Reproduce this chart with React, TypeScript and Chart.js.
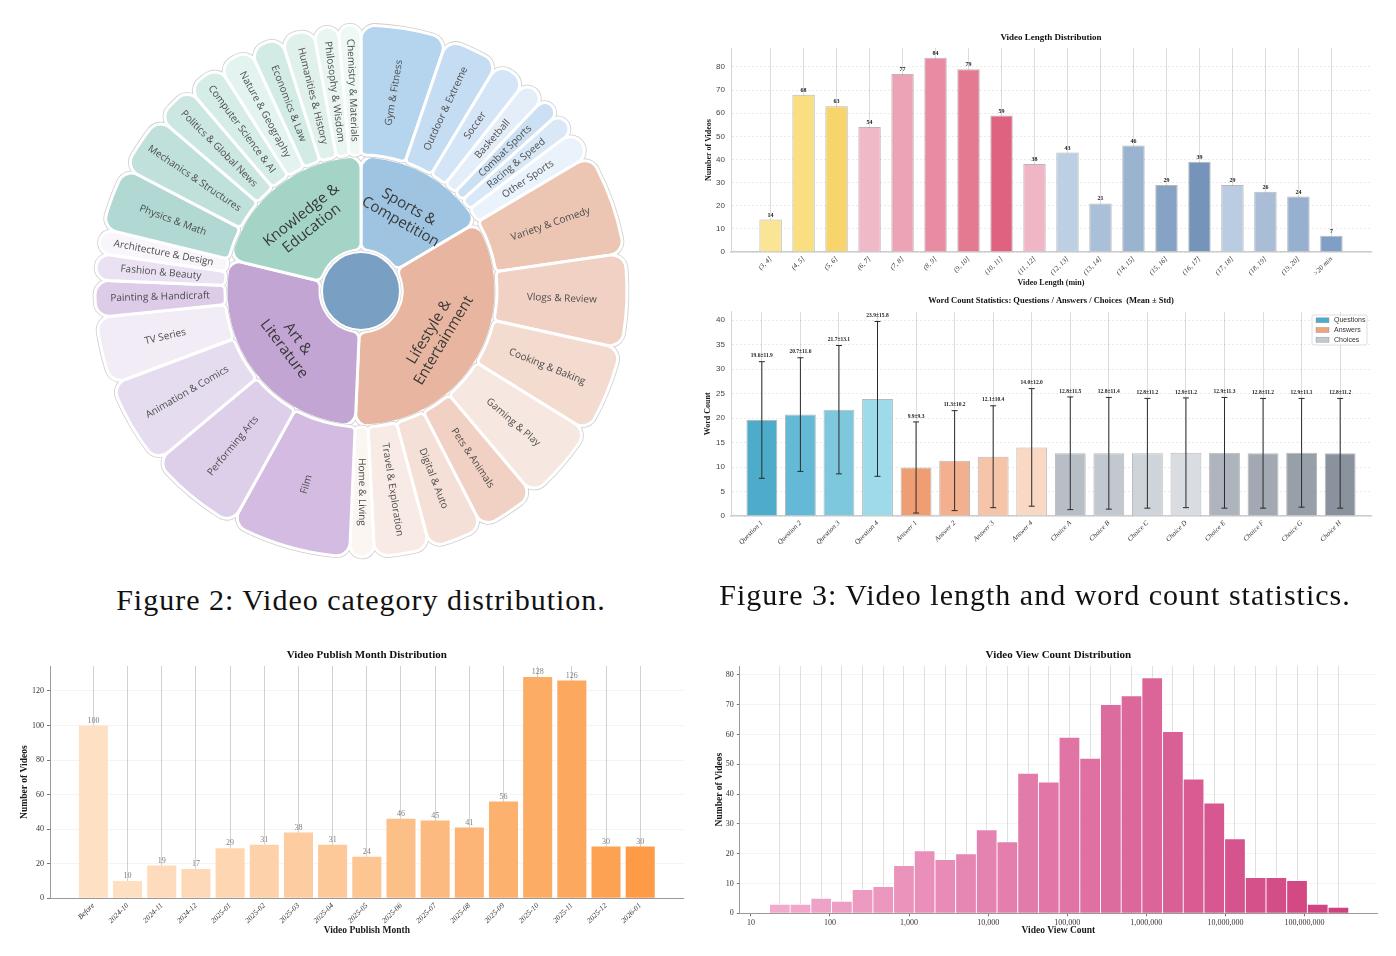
import React, { useEffect, useRef } from "react";
import { Chart, registerables } from "chart.js";

Chart.register(...registerables);

// ---------------- category distribution (sunburst) ----------------
const categoryLines = [
  ["Sports &", "Competition"],
  ["Lifestyle &", "Entertainment"],
  ["Art &", "Literature"],
  ["Knowledge &", "Education"],
];

const sportsLeaves = ["Gym & Fitness", "Outdoor & Extreme", "Soccer", "Basketball", "Combat Sports", "Racing & Speed", "Other Sports"];
const sportsCounts = [42, 27, 16, 12, 10, 11, 14];

const lifestyleLeaves = ["Variety & Comedy", "Vlogs & Review", "Cooking & Baking", "Gaming & Play", "Pets & Animals", "Digital & Auto", "Travel & Exploration", "Home & Living"];
const lifestyleCounts = [50, 46, 43, 40, 29, 27, 27, 12];

const artLeaves = ["Film", "Performing Arts", "Animation & Comics", "TV Series", "Painting & Handicraft", "Fashion & Beauty", "Architecture & Design"];
const artCounts = [59, 47, 43, 33, 18, 13, 12];

const knowledgeLeaves = ["Physics & Math", "Mechanics & Structures", "Politics & Global News", "Computer Science & AI", "Nature & Geography", "Economics & Law", "Humanities & History", "Philosophy & Wisdom", "Chemistry & Materials"];
const knowledgeCounts = [31, 29, 20, 18, 17, 16, 16, 12, 11];

// ---------------- video length ----------------
const lengthLabels = ["(3, 4]", "(4, 5]", "(5, 6]", "(6, 7]", "(7, 8]", "(8, 9]", "(9, 10]", "(10, 11]", "(11, 12]", "(12, 13]", "(13, 14]", "(14, 15]", "(15, 16]", "(16, 17]", "(17, 18]", "(18, 19]", "(19, 20]", ">20 min"];
const lengthCounts = [14, 68, 63, 54, 77, 84, 79, 59, 38, 43, 21, 46, 29, 39, 29, 26, 24, 7];

// ---------------- word counts ----------------
const wordLabels = ["Question 1", "Question 2", "Question 3", "Question 4", "Answer 1", "Answer 2", "Answer 3", "Answer 4", "Choice A", "Choice B", "Choice C", "Choice D", "Choice E", "Choice F", "Choice G", "Choice H"];
const wordMeans = [19.6, 20.7, 21.7, 23.9, 9.9, 11.3, 12.1, 14.0, 12.8, 12.8, 12.8, 12.9, 12.9, 12.8, 12.9, 12.8];
const wordStds = [11.9, 11.6, 13.1, 15.8, 9.3, 10.2, 10.4, 12.0, 11.5, 11.4, 11.2, 11.2, 11.3, 11.2, 11.1, 11.2];
const wordGroups = ["Questions", "Answers", "Choices"];

// ---------------- publish month ----------------
const monthLabels = ["Before", "2024-10", "2024-11", "2024-12", "2025-01", "2025-02", "2025-03", "2025-04", "2025-05", "2025-06", "2025-07", "2025-08", "2025-09", "2025-10", "2025-11", "2025-12", "2026-01"];
const monthCounts = [100, 10, 19, 17, 29, 31, 38, 31, 24, 46, 45, 41, 56, 128, 126, 30, 30];

// ---------------- view count histogram ----------------
const viewBinEdges = [17.2, 31.4, 57.3, 104.7, 191.2, 349.1, 637.7, 1165, 2127, 3885, 7096, 12960, 23670, 43230, 78970, 144200, 263400, 481100, 878700, 1605000, 2931000, 5354000, 9777000, 17860000, 32620000, 59570000, 108800000, 198700000, 362900000];
const viewCounts = [3, 3, 5, 4, 8, 9, 16, 21, 18, 20, 28, 24, 47, 44, 59, 52, 70, 73, 79, 61, 45, 37, 25, 12, 12, 11, 3, 2];
const viewTickValues = [10, 100, 1000, 10000, 100000, 1000000, 10000000, 100000000];

// ---------------- styling ----------------
const SERIF = "'Liberation Serif', 'Times New Roman', serif";
const SANS = "'Liberation Sans', Arial, sans-serif";
const UI = "'Open Sans', 'Noto Sans', sans-serif";

const categoryColors = ["#9ec4e1", "#e8b6a0", "#c3a5d3", "#a4d4c5"];
const hubColor = "#79a0c3";
const OUTLINE = "#cfcfcf";
const sportsColors = ["#b5d5ee", "#c5ddf2", "#d3e5f6", "#e4eef9", "#cce0f3", "#d9e8f7", "#eaf2fb"];
const lifestyleColors = ["#edc5b3", "#f0d1c3", "#f3dbcf", "#f6e7e1", "#f1d1c3", "#f5e0d7", "#f8ebe5", "#fcf6f3"];
const artColors = ["#d4bbe1", "#ddcfe9", "#e6dcf0", "#f1ecf6", "#dccce7", "#eae2f2", "#f8f5fb"];
const knowledgeColors = ["#b2d8d4", "#c0e0db", "#cce7e1", "#d5ece7", "#e3f3ef", "#d3ebe5", "#e0f1ec", "#e8f5f1", "#eef8f5"];

const lengthColors = ["#fae596", "#f9de82", "#f7d46c", "#efb9c7", "#eda3b6", "#e98ca3", "#e47a92", "#df6381", "#f0b6c5", "#bccfe3", "#aabfd8", "#9ab3cf", "#86a3c5", "#7693b9", "#b9cce2", "#a9bdd7", "#97b0d0", "#7f9fc6"];
const wordColors = ["#4eaccb", "#63b9d6", "#7ec8de", "#9ddbea", "#ef9e73", "#f3b08e", "#f6c4a8", "#fad9c4", "#b7bec6", "#c2c8cf", "#cfd4da", "#d9dde2", "#adb4bd", "#a2a9b2", "#979fa8", "#8a939d"];
const wordGroupColors = ["#4eaccb", "#f0a37c", "#c3c8ce"];
const monthColors = ["#fee0c5", "#fedfc2", "#fedbbc", "#fed9b7", "#fed6b1", "#fdd1a9", "#fdcca0", "#fdc999", "#fdc592", "#fdbf88", "#fdba80", "#fdb577", "#fdb16f", "#fdac66", "#fda85f", "#fda253", "#fd9b47"];

function mixHex(a: string, b: string, t: number) {
  const pa = [1, 3, 5].map((k) => parseInt(a.slice(k, k + 2), 16));
  const pb = [1, 3, 5].map((k) => parseInt(b.slice(k, k + 2), 16));
  return "rgb(" + pa.map((v, i) => Math.round(v + (pb[i] - v) * t)).join(",") + ")";
}

// ---------------- shared helpers ----------------
function axisTitle(text: string, size: number, padding: any) {
  return {
    display: true,
    text,
    color: "#1a1a1a",
    font: { family: SERIF, size, weight: "bold", lineHeight: 1.2 },
    padding,
  };
}

function plotTitle(text: string, size: number, y: number) {
  return {
    id: "plotTitle",
    afterDraw(chart: any) {
      const { ctx, chartArea } = chart;
      ctx.save();
      ctx.font = `bold ${size}px ${SERIF}`;
      ctx.fillStyle = "#111";
      ctx.textAlign = "center";
      ctx.textBaseline = "middle";
      ctx.fillText(text, (chartArea.left + chartArea.right) / 2, y);
      ctx.restore();
    },
  };
}

function barValueLabels(font: string, color: string, gap: number) {
  return {
    id: "barValueLabels",
    afterDatasetsDraw(chart: any) {
      const { ctx } = chart;
      const meta = chart.getDatasetMeta(0);
      const values = chart.data.datasets[0].data;
      ctx.save();
      ctx.font = font;
      ctx.fillStyle = color;
      ctx.textAlign = "center";
      ctx.textBaseline = "bottom";
      meta.data.forEach((bar: any, i: number) => ctx.fillText(String(values[i].y), bar.x, bar.y - gap));
      ctx.restore();
    },
  };
}

function frameLayout(W: number, box: any) {
  return { autoPadding: false, padding: { left: 0, right: W - box.r, top: box.t, bottom: 0 } };
}

// ---------------- sunburst ----------------
const leafNames = [sportsLeaves, lifestyleLeaves, artLeaves, knowledgeLeaves].flat();
const leafCountGroups = [sportsCounts, lifestyleCounts, artCounts, knowledgeCounts];
const leafCounts = leafCountGroups.flat();
const categoryTotals = leafCountGroups.map((g) => g.reduce((a, b) => a + b, 0));
const leafColors = [sportsColors, lifestyleColors, artColors, knowledgeColors].flat();

const sunburstPlugin = {
  id: "sunburstDecor",
  beforeDatasetDraw(chart: any, args: any) {
    if (args.index === 1) return;
    const ctx = chart.ctx;
    chart.getDatasetMeta(args.index).data.forEach((arc: any) => {
      const saved = arc.options;
      arc.options = { ...saved, backgroundColor: OUTLINE, borderColor: OUTLINE, borderWidth: saved.borderWidth + 1.6 };
      arc.draw(ctx);
      arc.options = saved;
    });
  },
  afterDatasetsDraw(chart: any) {
    const ctx = chart.ctx;
    const inner = chart.getDatasetMeta(2).data;
    const cx = inner[0].x;
    const cy = inner[0].y;
    ctx.save();
    ctx.beginPath();
    ctx.arc(cx, cy, 40.6, 0, Math.PI * 2);
    ctx.fillStyle = OUTLINE;
    ctx.fill();
    ctx.beginPath();
    ctx.arc(cx, cy, 39, 0, Math.PI * 2);
    ctx.fillStyle = hubColor;
    ctx.fill();
    ctx.lineWidth = 2;
    ctx.strokeStyle = "#ffffff";
    ctx.stroke();

    ctx.textAlign = "center";
    ctx.textBaseline = "middle";

    // leaf labels, running along the radius
    ctx.font = `10px ${UI}`;
    ctx.fillStyle = "#4d4d4d";
    chart.getDatasetMeta(0).data.forEach((arc: any, i: number) => {
      const mid = (arc.startAngle + arc.endAngle) / 2;
      const r = (arc.innerRadius + arc.outerRadius) / 2;
      const deg = (mid * 180) / Math.PI + 90;
      const rot = ((deg < 180.5 ? deg - 90 : deg - 270) * Math.PI) / 180;
      ctx.save();
      ctx.translate(cx + r * Math.cos(mid), cy + r * Math.sin(mid));
      ctx.rotate(rot);
      ctx.fillText(leafNames[i], 0, 0);
      ctx.restore();
    });

    // category labels, across the radius
    ctx.font = `15px ${UI}`;
    ctx.fillStyle = "#383838";
    inner.forEach((arc: any, i: number) => {
      const mid = (arc.startAngle + arc.endAngle) / 2;
      const r = (arc.innerRadius + arc.outerRadius) / 2;
      const deg = (mid * 180) / Math.PI + 90;
      const rot = ((deg < 90 || deg > 270 ? deg : deg - 180) * Math.PI) / 180;
      const lines = categoryLines[i];
      ctx.save();
      ctx.translate(cx + r * Math.cos(mid), cy + r * Math.sin(mid));
      ctx.rotate(rot);
      lines.forEach((t, k) => ctx.fillText(t, 0, (k - (lines.length - 1) / 2) * 17));
      ctx.restore();
    });
    ctx.restore();
  },
};

function makeSunburst() {
  return {
    type: "doughnut",
    data: {
      labels: leafNames,
      datasets: [
        {
          data: leafCounts,
          backgroundColor: leafColors,
          borderColor: "#ffffff",
          borderWidth: 3,
          weight: 130,
          borderRadius: { outerStart: 14, outerEnd: 14, innerStart: 5, innerEnd: 5 },
        },
        { data: [1], backgroundColor: "rgba(0,0,0,0)", borderWidth: 0, weight: 1 },
        {
          data: categoryTotals,
          backgroundColor: categoryColors,
          borderColor: "#ffffff",
          borderWidth: 3,
          weight: 94,
          borderRadius: { outerStart: 12, outerEnd: 12, innerStart: 8, innerEnd: 8 },
        },
      ],
    },
    options: {
      responsive: false,
      animation: false,
      radius: 266,
      cutout: `${(41 / 266) * 100}%`,
      layout: { padding: 0 },
      plugins: { legend: { display: false }, tooltip: { enabled: false } },
    },
    plugins: [sunburstPlugin],
  };
}

// ---------------- video length bars ----------------
function makeLengthChart() {
  const W = 690, H = 270;
  const box = { l: 31, r: 671, t: 23, b: 227 };
  return {
    type: "bar",
    data: {
      datasets: [
        {
          data: lengthCounts.map((y, x) => ({ x, y })),
          backgroundColor: lengthColors,
          borderColor: "rgba(125,125,125,0.55)",
          borderWidth: 1,
          categoryPercentage: 0.68,
          barPercentage: 1,
        },
      ],
    },
    options: {
      responsive: false,
      animation: false,
      layout: frameLayout(W, box),
      plugins: { legend: { display: false }, tooltip: { enabled: false } },
      scales: {
        x: {
          type: "linear",
          offset: false,
          min: -1.2,
          max: lengthLabels.length - 1 + 1.2,
          afterBuildTicks: (s: any) => { s.ticks = lengthLabels.map((_, i) => ({ value: i })); },
          afterFit: (s: any) => { s.height = H - box.b; },
          ticks: {
            autoSkip: false, minRotation: 45, maxRotation: 45, padding: 3, color: "#333",
            font: { family: SERIF, size: 7, style: "italic" },
            callback: (v: any) => lengthLabels[v] ?? "",
          },
          grid: { color: "#dcdcdc", drawTicks: false, offset: false },
          border: { color: "#cccccc", width: 1.5 },
          title: axisTitle("Video Length (min)", 8, { top: 0, bottom: 7.2 }),
        },
        y: {
          min: 0,
          max: 88.2,
          afterFit: (s: any) => { s.width = box.l; },
          ticks: { stepSize: 10, includeBounds: false, color: "#444", padding: 6, font: { family: SANS, size: 8 } },
          grid: { color: "rgba(0,0,0,0.08)", drawTicks: false },
          border: { color: "#d5d5d5", dash: [2, 2] },
          title: axisTitle("Number of Videos", 8, { top: 4.2, bottom: 0 }),
        },
      },
    },
    plugins: [plotTitle("Video Length Distribution", 9, 12.3), barValueLabels(`bold 6px ${SERIF}`, "#222", 1.5)],
  };
}

// ---------------- word count bars with error bars ----------------
const errorBarPlugin = {
  id: "errorBars",
  afterDatasetsDraw(chart: any) {
    const { ctx } = chart;
    const y = chart.scales.y;
    const meta = chart.getDatasetMeta(0);
    ctx.save();
    meta.data.forEach((bar: any, i: number) => {
      const top = y.getPixelForValue(wordMeans[i] + wordStds[i]);
      const bot = y.getPixelForValue(wordMeans[i] - wordStds[i]);
      ctx.strokeStyle = "#2b2b2b";
      ctx.lineWidth = 1;
      ctx.beginPath();
      ctx.moveTo(bar.x, top);
      ctx.lineTo(bar.x, bot);
      ctx.moveTo(bar.x - 3, top);
      ctx.lineTo(bar.x + 3, top);
      ctx.moveTo(bar.x - 3, bot);
      ctx.lineTo(bar.x + 3, bot);
      ctx.stroke();
      ctx.font = `bold 5.5px ${SERIF}`;
      ctx.fillStyle = "#222";
      ctx.textAlign = "center";
      ctx.textBaseline = "bottom";
      ctx.fillText(`${wordMeans[i].toFixed(1)}±${wordStds[i].toFixed(1)}`, bar.x, top - 3);
    });
    ctx.restore();
  },
};

const wordLegendPlugin = {
  id: "wordLegend",
  afterDraw(chart: any) {
    const { ctx, chartArea } = chart;
    const w = 55, h = 30;
    const x0 = chartArea.right - 4 - w;
    const y0 = chartArea.top + 3.3;
    ctx.save();
    ctx.beginPath();
    ctx.roundRect(x0, y0, w, h, 2);
    ctx.fillStyle = "rgba(255,255,255,0.9)";
    ctx.fill();
    ctx.strokeStyle = "#d6d6d6";
    ctx.lineWidth = 0.8;
    ctx.stroke();
    wordGroups.forEach((name, k) => {
      const yy = y0 + 5.3 + k * 9.7;
      ctx.fillStyle = wordGroupColors[k];
      ctx.fillRect(x0 + 4, yy - 2.5, 13, 5);
      ctx.strokeStyle = "#9a9a9a";
      ctx.lineWidth = 0.5;
      ctx.strokeRect(x0 + 4, yy - 2.5, 13, 5);
      ctx.fillStyle = "#333";
      ctx.font = `7px ${SANS}`;
      ctx.textAlign = "left";
      ctx.textBaseline = "middle";
      ctx.fillText(name, x0 + 22, yy);
    });
    ctx.restore();
  },
};

function makeWordChart() {
  const W = 690, H = 270;
  const box = { l: 31, r: 671, t: 21.7, b: 226 };
  return {
    type: "bar",
    data: {
      datasets: [
        {
          data: wordMeans.map((y, x) => ({ x, y })),
          backgroundColor: wordColors,
          borderColor: "rgba(125,125,125,0.55)",
          borderWidth: 1,
          categoryPercentage: 0.8,
          barPercentage: 1,
        },
      ],
    },
    options: {
      responsive: false,
      animation: false,
      layout: frameLayout(W, box),
      plugins: { legend: { display: false }, tooltip: { enabled: false } },
      scales: {
        x: {
          type: "linear",
          offset: false,
          min: -0.8,
          max: wordLabels.length - 1 + 0.8,
          afterBuildTicks: (s: any) => { s.ticks = wordLabels.map((_, i) => ({ value: i })); },
          afterFit: (s: any) => { s.height = H - box.b; },
          ticks: {
            autoSkip: false, minRotation: 45, maxRotation: 45, padding: 3, color: "#333",
            font: { family: SERIF, size: 7, style: "italic" },
            callback: (v: any) => wordLabels[v] ?? "",
          },
          grid: { color: "#dcdcdc", drawTicks: false, offset: false },
          border: { color: "#cccccc", width: 1.5 },
        },
        y: {
          min: 0,
          max: 41.7,
          afterFit: (s: any) => { s.width = box.l; },
          ticks: { stepSize: 5, includeBounds: false, color: "#444", padding: 6, font: { family: SANS, size: 8 } },
          grid: { color: "rgba(0,0,0,0.08)", drawTicks: false },
          border: { color: "#d5d5d5", dash: [2, 2] },
          title: axisTitle("Word Count", 8, { top: 3.2, bottom: 0 }),
        },
      },
    },
    plugins: [
      plotTitle("Word Count Statistics: Questions / Answers / Choices  (Mean ± Std)", 8.5, 11),
      errorBarPlugin,
      wordLegendPlugin,
    ],
  };
}

// ---------------- publish month bars ----------------
function makeMonthChart() {
  const W = 690, H = 310;
  const box = { l: 50, r: 683.6, t: 26, b: 258.3 };
  return {
    type: "bar",
    data: {
      datasets: [
        {
          data: monthCounts.map((y, x) => ({ x, y })),
          backgroundColor: monthColors,
          borderWidth: 0,
          categoryPercentage: 0.85,
          barPercentage: 1,
        },
      ],
    },
    options: {
      responsive: false,
      animation: false,
      layout: frameLayout(W, box),
      plugins: { legend: { display: false }, tooltip: { enabled: false } },
      scales: {
        x: {
          type: "linear",
          offset: false,
          min: -1.27,
          max: monthLabels.length - 1 + 1.27,
          afterBuildTicks: (s: any) => { s.ticks = monthLabels.map((_, i) => ({ value: i })); },
          afterFit: (s: any) => { s.height = H - box.b; },
          ticks: {
            autoSkip: false, minRotation: 45, maxRotation: 45, padding: 3, color: "#333",
            font: { family: SERIF, size: 7.5, style: "italic" },
            callback: (v: any) => monthLabels[v] ?? "",
          },
          grid: { color: "#d2d2d2", drawTicks: false, offset: false },
          border: { color: "#9a9a9a", width: 1 },
          title: axisTitle("Video Publish Month", 9.5, { top: 0, bottom: 13.6 }),
        },
        y: {
          min: 0,
          max: 134.4,
          afterFit: (s: any) => { s.width = box.l; },
          ticks: { stepSize: 20, includeBounds: false, color: "#333", padding: 3, font: { family: SERIF, size: 8 } },
          grid: { color: "rgba(0,0,0,0.045)", tickColor: "#777", tickLength: 3 },
          border: { color: "#9a9a9a", width: 1 },
          title: axisTitle("Number of Videos", 9.5, { top: 19.3, bottom: 0 }),
        },
      },
    },
    plugins: [plotTitle("Video Publish Month Distribution", 11, 15), barValueLabels(`8px ${SERIF}`, "#808080", 1)],
  };
}

// ---------------- view count histogram ----------------
function makeViewChart() {
  const W = 690, H = 310;
  const box = { l: 39.8, r: 677, t: 26, b: 273.3 };
  const centers = viewCounts.map((_, i) => Math.sqrt(viewBinEdges[i] * viewBinEdges[i + 1]));
  const isLabelled = (v: number) => viewTickValues.includes(v);
  return {
    type: "bar",
    data: {
      datasets: [
        {
          data: viewCounts.map((y, i) => ({ x: centers[i], y })),
          backgroundColor: viewCounts.map((_, i) => mixHex("#f2aacd", "#cf417e", i / (viewCounts.length - 1))),
          borderColor: "rgba(255,255,255,0.65)",
          borderWidth: 0.8,
          barThickness: "flex",
          categoryPercentage: 1,
          barPercentage: 1,
        },
      ],
    },
    options: {
      responsive: false,
      animation: false,
      layout: frameLayout(W, box),
      plugins: { legend: { display: false }, tooltip: { enabled: false } },
      scales: {
        x: {
          type: "logarithmic",
          offset: false,
          min: 7.24,
          max: 8.26e8,
          afterBuildTicks: (s: any) => {
            s.ticks = [...viewTickValues, ...centers].sort((a, b) => a - b).map((value) => ({ value }));
          },
          afterFit: (s: any) => { s.height = H - box.b; },
          ticks: {
            autoSkip: false, maxRotation: 0, minRotation: 0, padding: 2, color: "#333",
            font: { family: SERIF, size: 8 },
            callback: (v: any) => (isLabelled(v) ? Number(v).toLocaleString("en-US") : ""),
          },
          grid: {
            offset: false,
            color: (c: any) => (c.tick && isLabelled(c.tick.value) ? "rgba(0,0,0,0)" : "#e0e0e0"),
            tickColor: (c: any) => (c.tick && isLabelled(c.tick.value) ? "#777" : "rgba(0,0,0,0)"),
            tickLength: 3,
          },
          border: { color: "#9a9a9a", width: 1 },
          title: axisTitle("Video View Count", 9.5, { top: 0, bottom: 13.6 }),
        },
        y: {
          min: 0,
          max: 82.95,
          afterFit: (s: any) => { s.width = box.l; },
          ticks: { stepSize: 10, includeBounds: false, color: "#333", padding: 3, font: { family: SERIF, size: 8 } },
          grid: { color: "rgba(0,0,0,0.045)", tickColor: "#777", tickLength: 3 },
          border: { color: "#9a9a9a", width: 1 },
          title: axisTitle("Number of Videos", 9.5, { top: 14.3, bottom: 0 }),
        },
      },
    },
    plugins: [plotTitle("Video View Count Distribution", 11, 15)],
  };
}

// ---------------- components ----------------
function ChartCanvas({ left, top, width, height, make }: any) {
  const ref = useRef<HTMLCanvasElement>(null);
  useEffect(() => {
    const chart = new Chart(ref.current as any, make());
    return () => chart.destroy();
  }, []);
  return (
    <canvas
      ref={ref}
      width={width}
      height={height}
      style={{ position: "absolute", left, top, width, height, display: "block" }}
    />
  );
}

const captionStyle: any = {
  position: "absolute",
  fontFamily: SERIF,
  fontSize: 30,
  letterSpacing: 1,
  lineHeight: "34px",
  color: "#111",
  textAlign: "center",
  whiteSpace: "nowrap",
};

export default function App() {
  Chart.defaults.font.family = SERIF;
  return (
    <div style={{ position: "absolute", left: 0, top: 0, width: 1396, height: 956, background: "#ffffff", overflow: "hidden" }}>
      <ChartCanvas left={0} top={0} width={722} height={582} make={makeSunburst} />
      <ChartCanvas left={700} top={25} width={690} height={270} make={makeLengthChart} />
      <ChartCanvas left={700} top={290} width={690} height={270} make={makeWordChart} />
      <ChartCanvas left={0} top={640} width={690} height={310} make={makeMonthChart} />
      <ChartCanvas left={700} top={640} width={690} height={310} make={makeViewChart} />
      <div style={{ ...captionStyle, left: 0, width: 722, top: 583 }}>Figure 2: Video category distribution.</div>
      <div style={{ ...captionStyle, left: 700, width: 670, top: 578 }}>Figure 3: Video length and word count statistics.</div>
    </div>
  );
}
